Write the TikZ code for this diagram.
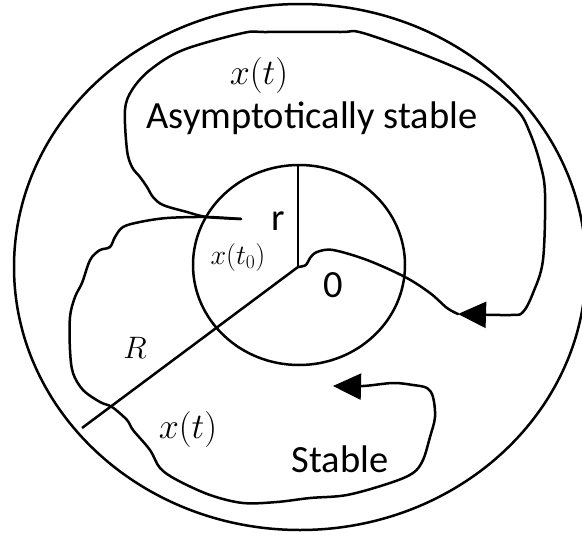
\documentclass[tikz,border=0pt]{standalone}
\usepackage{fix-cm}
\usepackage{fontspec}
\setmainfont{Carlito}
\usetikzlibrary{arrows.meta}
\begin{document}
\begin{tikzpicture}[x=1pt,y=-1pt,line width=2.5pt,line join=round,
  curve/.style={line width=2.5pt, line cap=round},
  tipped/.style={-{Triangle[length=28pt,width=26pt]}},
  lbl/.style={font=\fontsize{38.5}{42}\selectfont, inner sep=0pt},
  mlbl/.style={font=\fontsize{36}{40}\selectfont, inner sep=0pt},
  slbl/.style={font=\fontsize{28}{30}\selectfont, inner sep=0pt}]
\useasboundingbox (0,0) rectangle (582,536);
\clip (0,0) rectangle (582,536);
% circles
\coordinate (O) at (298,267);
\coordinate (Rtop) at (298,165);
\coordinate (Rend) at (82,428);
\coordinate (X0) at (241,219);
\coordinate (T1) at (458,314);
\coordinate (T2) at (333,386);
\draw (300,267) ellipse [x radius=286pt, y radius=263pt];
\draw (299,265) ellipse [x radius=106pt, y radius=100pt];
% radii
\draw (Rtop) -- (O);
\draw (O) -- (Rend);
% asymptotically stable trajectory
\draw[curve,tipped] plot[smooth,tension=0.55] coordinates {
 (241,219) (207,217) (187,212) (163,205) (153,197) (147,187) (140,177)
 (132,167) (127,150) (125,110) (132,90) (150,70) (183,50) (243,33)
 (267,32) (340,32) (363,33) (430,57) (480,80) (517,110) (530,133)
 (540,163) (545,193) (543,260) (533,293) (523,312) (511,315) (458,314)};
\draw[curve] plot[smooth,tension=0.55] coordinates {
 (458,314) (447,308) (430,293) (405,277) (367,260) (333,250) (317,252)
 (310,258) (306,265) (298,267)};
% stable trajectory
\draw[curve,tipped] plot[smooth,tension=0.55] coordinates {
 (241,219) (207,217) (167,218) (140,222) (123,227) (115,237) (110,247)
 (100,250) (92,257) (88,265) (82,283) (75,297) (70,317) (70,350)
 (73,373) (83,390) (100,402) (112,407) (127,420) (133,430) (150,450)
 (160,468) (177,480) (210,495) (243,503) (277,502) (310,498) (347,495)
 (390,483) (413,473) (423,460) (430,437) (435,417) (433,397) (427,388)
 (413,385) (393,383) (363,386) (333,386)};
% labels
\node[mlbl] (xt1) at (259,75) {$x(t)$};
\node[lbl,anchor=base] (as) at (312,128) {Asymptotically stable};
\node[lbl,anchor=base] (r) at (278,230) {r};
\node[slbl] (xt0) at (238,257) {$x(t_0)$};
\node[lbl,anchor=base] (zero) at (333,297) {0};
\node[mlbl,anchor=base,font=\fontsize{31}{34}\selectfont] (R) at (135,358) {$R$};
\node[mlbl] (xt2) at (188,429) {$x(t)$};
\node[lbl,anchor=base] (st) at (340,472) {Stable};
\end{tikzpicture}
\end{document}
